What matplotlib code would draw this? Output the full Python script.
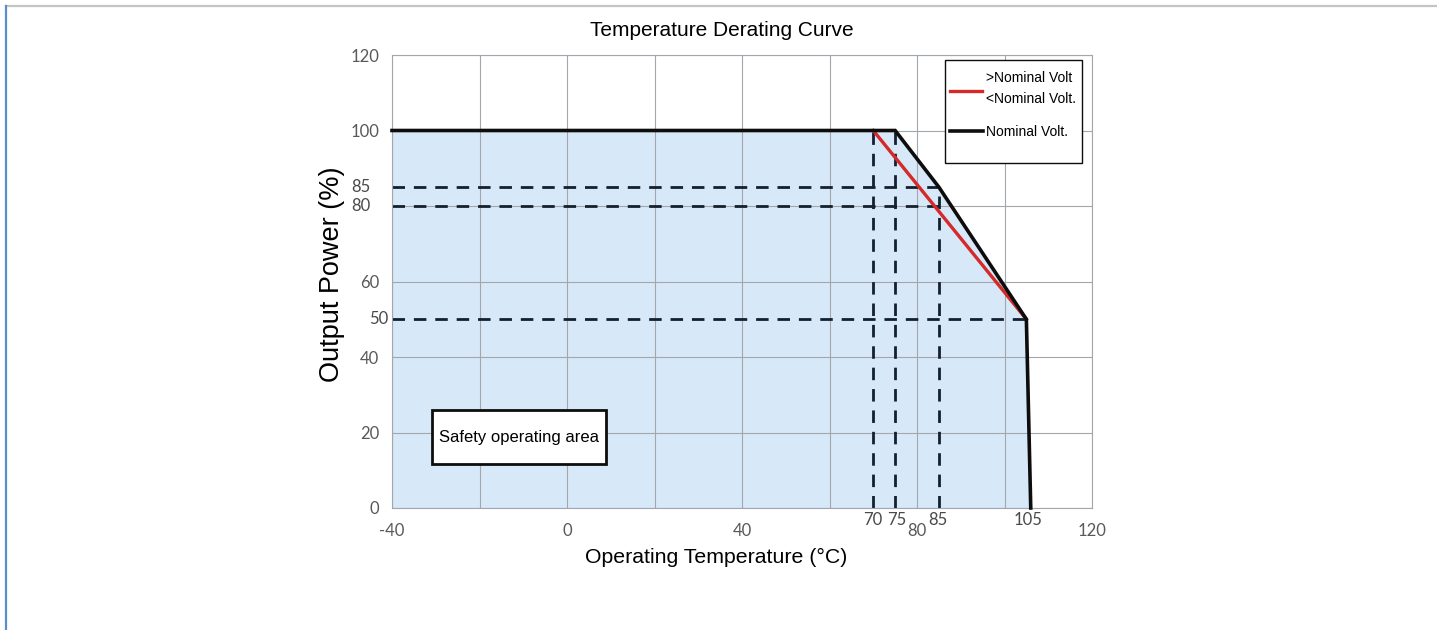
import matplotlib
matplotlib.use("Agg")
import matplotlib.pyplot as plt
from matplotlib.lines import Line2D
from matplotlib.patches import Rectangle

# curve data
temp_nominal = [-40, 75, 85, 105, 106]
power_nominal = [100, 100, 85, 50, 0]
temp_other = [70, 105]
power_other = [100, 50]

# dashed guide lines
hguide_y = [85, 80, 50]
hguide_xend = [85, 85, 105]
vguide_x = [70, 75, 85]
vguide_ytop = [100, 100, 85]

x_ticks = [-40, -20, 0, 20, 40, 60, 80, 100, 120]
x_ticklabels = ['-40', '', '0', '', '40', '', '80', '', '120']
y_ticks = [0, 20, 40, 60, 80, 100, 120]
y_ticklabels = ['0', '20', '40', '60', '', '100', '120']
x_marks = ['70', '75', '85', '105']
x_marks_pos = [70, 75.4, 84.8, 105.4]
y_marks = ['85', '80', '50']
y_marks_pos = [85, 80, 50]
y_marks_off = [-21, -22, -4]

plt.rcParams['font.family'] = ['Liberation Sans', 'DejaVu Sans']
grid_col = '#a3a7ad'
tick_col = '#595959'
dash_col = '#14202e'
red = '#d42a2a'
blk = '#0d0d0d'

fig = plt.figure(figsize=(14.37, 6.3), dpi=100)
ax = fig.add_axes([392 / 1437, 122 / 630, 700 / 1437, 453 / 630])

ax.fill_between(temp_nominal, power_nominal, 0, color='#d7e8f8', lw=0, zorder=0.3)

for y, xe in zip(hguide_y, hguide_xend):
    ax.plot([-40, xe], [y, y], color=dash_col, lw=2, dashes=(4.5, 3.2), zorder=2)
for x, yt in zip(vguide_x, vguide_ytop):
    ax.plot([x, x], [0, yt], color=dash_col, lw=2, dashes=(4.5, 3.2), zorder=2)

ax.plot(temp_other, power_other, color=red, lw=2.4, zorder=3)
ax.plot(temp_nominal, power_nominal, color=blk, lw=2.6, zorder=4,
        clip_on=False, solid_joinstyle='miter')

ax.set_xlim(-40, 120)
ax.set_ylim(0, 120)
ax.set_xticks(x_ticks)
ax.set_xticklabels(x_ticklabels)
ax.set_yticks(y_ticks)
ax.set_yticklabels(y_ticklabels)
ax.tick_params(length=0, labelcolor=tick_col, labelsize=12)
ax.tick_params(axis='x', pad=11)
ax.tick_params(axis='y', pad=9)
for lab in ax.get_xticklabels() + ax.get_yticklabels():
    lab.set_family(['Lato', 'DejaVu Sans'])
ax.grid(True, color=grid_col, lw=0.8)
ax.set_axisbelow(True)
for s in ax.spines.values():
    s.set_color(grid_col)
    s.set_linewidth(0.8)

for lab, pos in zip(x_marks, x_marks_pos):
    ax.annotate(lab, xy=(pos, 0), xytext=(0, -12), textcoords='offset pixels',
                ha='center', va='center', fontsize=12, color='#4a4a4a',
                family=['Lato', 'DejaVu Sans'], annotation_clip=False)
for lab, pos, off in zip(y_marks, y_marks_pos, y_marks_off):
    ax.annotate(lab, xy=(-40, pos), xytext=(off, 0), textcoords='offset pixels',
                ha='right', va='center', fontsize=12, color='#4a4a4a',
                family=['Lato', 'DejaVu Sans'], annotation_clip=False)

# safety area box
ax.add_patch(Rectangle((-30.9, 11.7), 39.8, 14.3, facecolor='white',
                       edgecolor=blk, lw=2, zorder=5))
ax.text(-11, 18.8, 'Safety operating area', ha='center', va='center',
        fontsize=12, zorder=6)


# legend box drawn in axes coords (pixel positions from the reference)
def axc(px, py):
    return (px - 392) / 700, (508 - py) / 453


x0, y0 = axc(945, 163)
x1, y1 = axc(1082, 60)
ax.add_patch(Rectangle((x0, y0), x1 - x0, y1 - y0, transform=ax.transAxes,
                       facecolor='white', edgecolor=blk, lw=1.0, zorder=7))
hx0, hy = axc(950, 91)
hx1, _ = axc(982, 91)
ax.add_artist(Line2D([hx0, hx1], [hy, hy], transform=ax.transAxes, color=red,
                     lw=2.4, zorder=8))
hx0, hy = axc(950, 131)
hx1, _ = axc(983, 131)
ax.add_artist(Line2D([hx0, hx1], [hy, hy], transform=ax.transAxes, color=blk,
                     lw=2.6, zorder=8))
for txt, py in [('>Nominal Volt', 78), ('<Nominal Volt.', 99), ('Nominal Volt.', 132)]:
    tx, ty = axc(986, py)
    ax.text(tx, ty, txt, transform=ax.transAxes, ha='left', va='center',
            fontsize=10, zorder=9)

ax.set_xlabel('Operating Temperature (°C)', fontsize=15.3, va='center')
ax.xaxis.set_label_coords((716 - 392) / 700, (508 - 557) / 453)
ax.set_ylabel('Output Power (%)', fontsize=19.5, va='center')
ax.yaxis.set_label_coords((332 - 392) / 700, (508 - 274) / 453)

fig.text(722 / 1437, 1 - 30 / 630, 'Temperature Derating Curve', ha='center',
         va='center', fontsize=15)

# frame lines around the picture
fig.add_artist(Line2D([6 / 1437, 1], [1 - 6 / 630, 1 - 6 / 630],
                      transform=fig.transFigure, color='#c4c4c4', lw=1.6))
fig.add_artist(Line2D([6 / 1437, 6 / 1437], [0, 1 - 6 / 630],
                      transform=fig.transFigure, color='#5b8fc9', lw=1.6))

fig.savefig('out.png', dpi=100)
